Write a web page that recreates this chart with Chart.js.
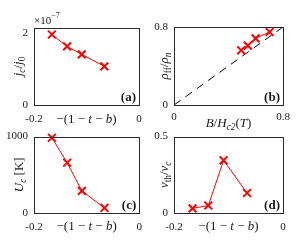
<!DOCTYPE html>
<html><head><meta charset="utf-8">
<script src="https://cdn.jsdelivr.net/npm/chart.js@4/dist/chart.umd.min.js"></script>
<style>
html,body{margin:0;padding:0;background:#fff;}
#wrap{position:relative;width:305px;height:248px;overflow:hidden;}
.p{position:absolute;}
</style></head><body>
<div id="wrap">
<div class="p" style="left:0;top:124px;width:150px;height:124px"><canvas id="cc"></canvas></div>
<div class="p" style="left:150px;top:124px;width:155px;height:124px"><canvas id="cd"></canvas></div>
<div class="p" style="left:0;top:0;width:150px;height:134px"><canvas id="ca"></canvas></div>
<div class="p" style="left:150px;top:0;width:155px;height:134px"><canvas id="cb"></canvas></div>
</div>
<script>
// ---- data ----
const xVals = [-0.166, -0.137, -0.109, -0.066];      // -(1-t-b)
const jcVals = [1.95, 1.62, 1.40, 1.07];              // j_c/j_0 (x1e-7)
const bVals = [0.493, 0.542, 0.599, 0.702];           // B/Hc2(T)
const rhoVals = [0.561, 0.609, 0.684, 0.749];         // rho_ff/rho_n
const diagX = [0, 0.8];
const diagY = [0, 0.8];
const ucVals = [985, 658, 289, 66];                   // U_c [K]
const vthVals = [0.030, 0.049, 0.345, 0.131];         // v_th/v_c
const xTicksT = [-0.2, 0];
const xTicksB = [0, 0.8];
const yTicksA = [0, 2];
const yTicksB = [0, 0.8];
const yTicksC = [0, 1000];
const yTicksD = [0, 0.5];

const FAM = "'Liberation Serif','DejaVu Serif',serif";
const TXT = '#1a1a1a';

function drawRich(ctx, segs, x, y, size, rotate, align) {
  ctx.save();
  ctx.translate(x, y);
  if (rotate) ctx.rotate(-Math.PI / 2);
  const parts = segs.map(([t, s]) => {
    const small = (s === 'si' || s === 'sr' || s === 'sup');
    const ital = (s === 'i' || s === 'si');
    const fs = small ? size * 0.72 : size;
    const font = (ital ? 'italic ' : '') + fs + 'px ' + FAM;
    ctx.font = font;
    return {t, font, w: ctx.measureText(t).width, dy: s === 'sup' ? -size * 0.42 : (small ? size * 0.25 : 0)};
  });
  const total = parts.reduce((a, p) => a + p.w, 0);
  let cx = align === 'left' ? 0 : -total / 2;
  ctx.fillStyle = TXT;
  ctx.textBaseline = 'middle';
  ctx.textAlign = 'left';
  parts.forEach(p => { ctx.font = p.font; ctx.fillText(p.t, cx, p.dy); cx += p.w; });
  ctx.restore();
}

function makePanel(id, o) {
  const deco = {
    id: 'deco',
    afterDraw(chart) {
      const ctx = chart.ctx, a = chart.chartArea;
      ctx.save();
      ctx.strokeStyle = '#2a2a2a';
      ctx.lineWidth = 1;
      const l = Math.round(a.left) + 0.5, t = Math.round(a.top) + 0.5;
      const r = Math.round(a.right) + 0.5, b = Math.round(a.bottom) + 0.5;
      ctx.strokeRect(l, t, r - l, b - t);
      ctx.restore();
      drawRich(ctx, o.xTitle, (a.left + a.right) / 2, a.bottom + o.xTitleDy, 13, false);
      drawRich(ctx, o.yTitle, o.yTitleX, (a.top + a.bottom) / 2, 13, true);
      if (o.mult) drawRich(ctx, o.mult, a.left, a.top - 7, 11, false, 'left');
      ctx.save();
      ctx.font = 'bold 13px ' + FAM;
      ctx.fillStyle = TXT;
      ctx.textAlign = 'right';
      ctx.textBaseline = 'alphabetic';
      ctx.fillText(o.letter, a.right - 3, a.bottom - 4);
      ctx.restore();
    }
  };
  const tickFont = {family: FAM, size: 11};
  return new Chart(document.getElementById(id), {
    type: 'scatter',
    data: {datasets: o.datasets},
    options: {
      responsive: true, maintainAspectRatio: false, animation: false,
      layout: {padding: {left: 0, right: o.padR, top: o.padT, bottom: 0}},
      plugins: {legend: {display: false}, tooltip: {enabled: false}},
      scales: {
        x: {
          type: 'linear', min: o.xMin, max: o.xMax,
          grid: {display: false, drawTicks: false}, border: {display: false},
          afterBuildTicks: s => { s.ticks = o.xTicks.map(v => ({value: v})); },
          afterFit: s => { s.height = o.xH; },
          ticks: {font: tickFont, color: TXT, padding: o.xTickPad, maxRotation: 0, autoSkip: false,
                  callback: v => String(v)}
        },
        y: {
          type: 'linear', min: o.yMin, max: o.yMax,
          grid: {display: false, drawTicks: false}, border: {display: false},
          afterBuildTicks: s => { s.ticks = o.yTicks.map(v => ({value: v})); },
          afterFit: s => { s.width = o.yW; },
          ticks: {font: tickFont, color: TXT, padding: 6, autoSkip: false, callback: v => String(v)}
        }
      }
    },
    plugins: [deco]
  });
}

function redSeries(xs, ys) {
  return {
    data: xs.map((x, i) => ({x, y: ys[i]})),
    showLine: true, borderColor: '#ff0000', backgroundColor: '#ff0000', borderWidth: 1,
    pointStyle: 'crossRot', pointRadius: 5.5, pointBorderWidth: 2, pointBorderColor: '#ff0000',
    clip: false, order: 0
  };
}

makePanel('ca', {
  datasets: [redSeries(xVals, jcVals)],
  xMin: -0.2, xMax: 0, yMin: 0, yMax: 2.13, xTicks: xTicksT, yTicks: yTicksA,
  padR: 11, padT: 28, xH: 29, yW: 34, xTickPad: 8, xTitleDy: 15,
  xTitle: [['−(1 − ', 'r'], ['t', 'i'], [' − ', 'r'], ['b', 'i'], [')', 'r']],
  yTitle: [['j', 'i'], ['c', 'si'], ['/', 'r'], ['j', 'i'], ['0', 'sr']], yTitleX: 19,
  mult: [['×10', 'r'], ['−7', 'sup']], letter: '(a)'
});
makePanel('cb', {
  datasets: [redSeries(bVals, rhoVals), {
    data: diagX.map((x, i) => ({x, y: diagY[i]})), showLine: true, borderColor: '#000',
    borderWidth: 1, borderDash: [8, 6], pointRadius: 0, order: 1
  }],
  xMin: 0, xMax: 0.8, yMin: 0, yMax: 0.8, xTicks: xTicksB, yTicks: yTicksB,
  padR: 22, padT: 27, xH: 29, yW: 24, xTickPad: 6, xTitleDy: 19,
  xTitle: [['B', 'i'], ['/', 'r'], ['H', 'i'], ['c2', 'si'], ['(', 'r'], ['T', 'i'], [')', 'r']],
  yTitle: [['ρ', 'i'], ['ff', 'sr'], ['/', 'r'], ['ρ', 'i'], ['n', 'si']], yTitleX: 15,
  letter: '(b)'
});
makePanel('cc', {
  datasets: [redSeries(xVals, ucVals)],
  xMin: -0.2, xMax: 0, yMin: 0, yMax: 1000, xTicks: xTicksT, yTicks: yTicksC,
  padR: 10, padT: 12, xH: 35, yW: 34, xTickPad: 8, xTitleDy: 14,
  xTitle: [['−(1 − ', 'r'], ['t', 'i'], [' − ', 'r'], ['b', 'i'], [')', 'r']],
  yTitle: [['U', 'i'], ['c', 'si'], [' [K]', 'r']], yTitleX: 20,
  letter: '(c)'
});
makePanel('cd', {
  datasets: [redSeries(xVals, vthVals)],
  xMin: -0.2, xMax: 0, yMin: 0, yMax: 0.5, xTicks: xTicksT, yTicks: yTicksD,
  padR: 22, padT: 11, xH: 35, yW: 24, xTickPad: 8, xTitleDy: 14,
  xTitle: [['−(1 − ', 'r'], ['t', 'i'], [' − ', 'r'], ['b', 'i'], [')', 'r']],
  yTitle: [['v', 'i'], ['th', 'sr'], ['/', 'r'], ['v', 'i'], ['c', 'si']], yTitleX: 15,
  letter: '(d)'
});
</script>
</body></html>
